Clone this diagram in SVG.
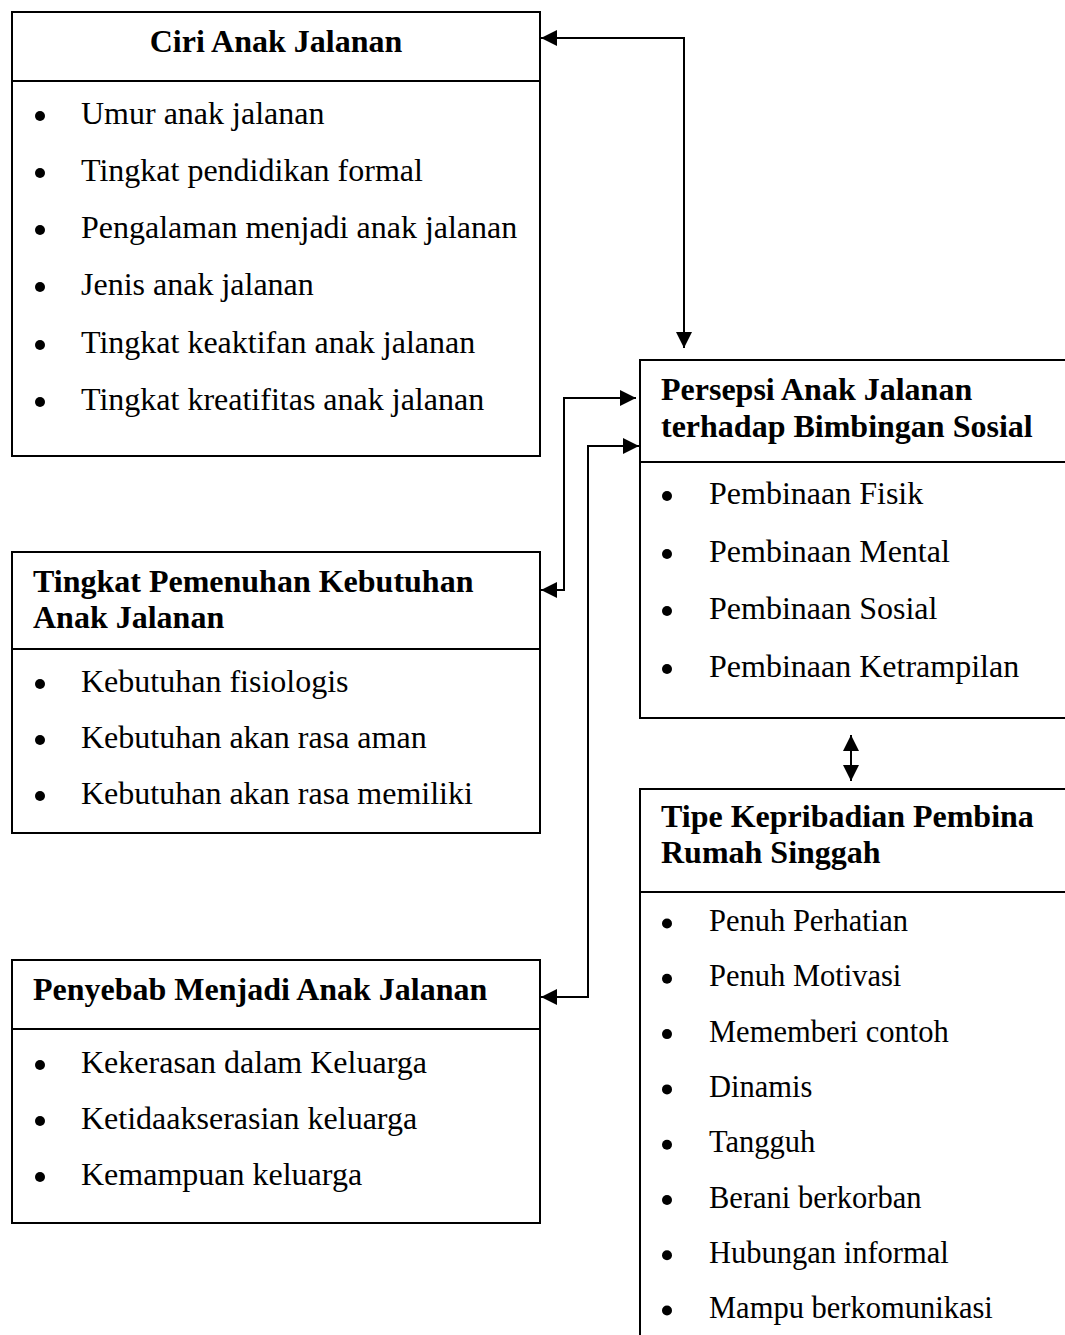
<svg xmlns="http://www.w3.org/2000/svg" width="1065" height="1335" viewBox="0 0 1065 1335">
<style>
  .box { fill: #ffffff; stroke: #000000; stroke-width: 2; }
  .div { stroke: #000000; stroke-width: 2; }
  .title { font-family: "Liberation Serif", "Times New Roman", serif; font-weight: bold; font-size: 32px; fill: #000; }
  .item { font-family: "Liberation Serif", "Times New Roman", serif; font-size: 32px; fill: #000; }
  .item2 { font-family: "Liberation Serif", "Times New Roman", serif; font-size: 30.5px; fill: #000; }
  .bullet { fill: #000; }
  .conn { fill: none; stroke: #000; stroke-width: 2; }
</style>
<defs>
  <marker id="ah" markerUnits="userSpaceOnUse" markerWidth="16" markerHeight="16" refX="15" refY="7.5" orient="auto-start-reverse" viewBox="0 0 15 15">
    <path d="M0,0 L15,7.5 L0,15 Z" fill="#000"/>
  </marker>
</defs>
<rect width="1065" height="1335" fill="#ffffff"/>

<g id="ciri">
  <rect class="box" x="12" y="12" width="528" height="444"/>
  <line class="div" x1="12" y1="81" x2="540" y2="81"/>
  <text class="title" x="276" y="52" text-anchor="middle">Ciri Anak Jalanan</text>
  <circle class="bullet" cx="40" cy="116" r="5"/>
  <text class="item" x="81" y="124">Umur anak jalanan</text>
  <circle class="bullet" cx="40" cy="173" r="5"/>
  <text class="item" x="81" y="181">Tingkat pendidikan formal</text>
  <circle class="bullet" cx="40" cy="230" r="5"/>
  <text class="item" x="81" y="238">Pengalaman menjadi anak jalanan</text>
  <circle class="bullet" cx="40" cy="287" r="5"/>
  <text class="item" x="81" y="295">Jenis anak jalanan</text>
  <circle class="bullet" cx="40" cy="345" r="5"/>
  <text class="item" x="81" y="353">Tingkat keaktifan anak jalanan</text>
  <circle class="bullet" cx="40" cy="402" r="5"/>
  <text class="item" x="81" y="410">Tingkat kreatifitas anak jalanan</text>
</g>

<g id="tingkat">
  <rect class="box" x="12" y="552" width="528" height="281"/>
  <line class="div" x1="12" y1="649" x2="540" y2="649"/>
  <text class="title" x="33" y="592">Tingkat Pemenuhan Kebutuhan</text>
  <text class="title" x="33" y="628">Anak Jalanan</text>
  <circle class="bullet" cx="40" cy="684" r="5"/>
  <text class="item" x="81" y="692">Kebutuhan fisiologis</text>
  <circle class="bullet" cx="40" cy="740" r="5"/>
  <text class="item" x="81" y="748">Kebutuhan akan rasa aman</text>
  <circle class="bullet" cx="40" cy="796" r="5"/>
  <text class="item" x="81" y="804">Kebutuhan akan rasa memiliki</text>
</g>

<g id="penyebab">
  <rect class="box" x="12" y="960" width="528" height="263"/>
  <line class="div" x1="12" y1="1029" x2="540" y2="1029"/>
  <text class="title" x="33" y="1000">Penyebab Menjadi Anak Jalanan</text>
  <circle class="bullet" cx="40" cy="1065" r="5"/>
  <text class="item" x="81" y="1073">Kekerasan dalam Keluarga</text>
  <circle class="bullet" cx="40" cy="1121" r="5"/>
  <text class="item" x="81" y="1129">Ketidaakserasian keluarga</text>
  <circle class="bullet" cx="40" cy="1177" r="5"/>
  <text class="item" x="81" y="1185">Kemampuan keluarga</text>
</g>

<g id="persepsi">
  <rect class="box" x="640" y="360" width="440" height="358"/>
  <line class="div" x1="640" y1="462" x2="1080" y2="462"/>
  <text class="title" x="661" y="400">Persepsi Anak Jalanan</text>
  <text class="title" x="661" y="437">terhadap Bimbingan Sosial</text>
  <circle class="bullet" cx="667" cy="496" r="5"/>
  <text class="item" x="709" y="504">Pembinaan Fisik</text>
  <circle class="bullet" cx="667" cy="554" r="5"/>
  <text class="item" x="709" y="562">Pembinaan Mental</text>
  <circle class="bullet" cx="667" cy="611" r="5"/>
  <text class="item" x="709" y="619">Pembinaan Sosial</text>
  <circle class="bullet" cx="667" cy="669" r="5"/>
  <text class="item" x="709" y="677">Pembinaan Ketrampilan</text>
</g>

<g id="tipe">
  <rect class="box" x="640" y="789" width="440" height="600"/>
  <line class="div" x1="640" y1="892" x2="1080" y2="892"/>
  <text class="title" x="661" y="827">Tipe Kepribadian Pembina</text>
  <text class="title" x="661" y="863">Rumah Singgah</text>
  <circle class="bullet" cx="667" cy="923.5" r="5"/>
  <text class="item2" x="709" y="931">Penuh Perhatian</text>
  <circle class="bullet" cx="667" cy="978.8" r="5"/>
  <text class="item2" x="709" y="986.3">Penuh Motivasi</text>
  <circle class="bullet" cx="667" cy="1034.1" r="5"/>
  <text class="item2" x="709" y="1041.6">Mememberi contoh</text>
  <circle class="bullet" cx="667" cy="1089.4" r="5"/>
  <text class="item2" x="709" y="1096.9">Dinamis</text>
  <circle class="bullet" cx="667" cy="1144.7" r="5"/>
  <text class="item2" x="709" y="1152.2">Tangguh</text>
  <circle class="bullet" cx="667" cy="1200" r="5"/>
  <text class="item2" x="709" y="1207.5">Berani berkorban</text>
  <circle class="bullet" cx="667" cy="1255.3" r="5"/>
  <text class="item2" x="709" y="1262.8">Hubungan informal</text>
  <circle class="bullet" cx="667" cy="1310.5" r="5"/>
  <text class="item2" x="709" y="1318">Mampu berkomunikasi</text>
</g>

<g id="connectors">
  <path class="conn" d="M541,38 H684 V348" marker-start="url(#ah)" marker-end="url(#ah)"/>
  <path class="conn" d="M636,398 H564 V590 H541" marker-start="url(#ah)" marker-end="url(#ah)"/>
  <path class="conn" d="M639,446 H588 V997 H541" marker-start="url(#ah)" marker-end="url(#ah)"/>
  <path class="conn" d="M851,735 V781" marker-start="url(#ah)" marker-end="url(#ah)"/>
</g>
</svg>
